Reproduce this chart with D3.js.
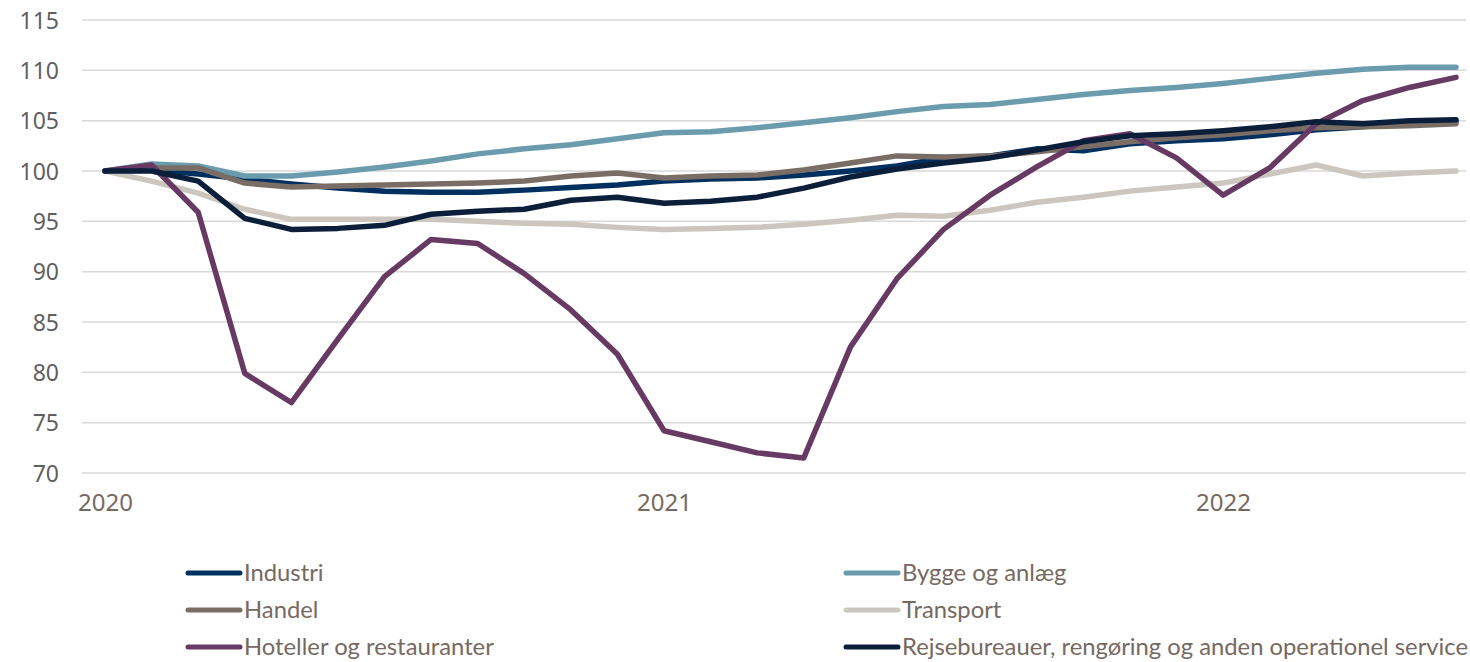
<!DOCTYPE html>
<html>
<head>
<meta charset="utf-8">
<script src="https://cdn.jsdelivr.net/npm/d3@7"></script>
<style>
  body { margin: 0; background: #fff; }
  .ytick { font-family: "Noto Sans", "Open Sans", sans-serif; font-size: 23px; fill: #5f5f5f; }
  .xtick { font-family: "Noto Sans", "Open Sans", sans-serif; font-size: 24px; fill: #76695f; }
  .legend text { font-family: Lato, "Liberation Sans Narrow", sans-serif; font-size: 23.8px; fill: #76695f; }
</style>
</head>
<body>
<svg width="1470" height="662"></svg>
<script>
var months = ["2020-01","2020-02","2020-03","2020-04","2020-05","2020-06","2020-07","2020-08","2020-09","2020-10","2020-11","2020-12",
  "2021-01","2021-02","2021-03","2021-04","2021-05","2021-06","2021-07","2021-08","2021-09","2021-10","2021-11","2021-12",
  "2022-01","2022-02","2022-03","2022-04","2022-05","2022-06"];

var industri = [100, 100.1, 99.7, 99.2, 98.7, 98.3, 98.0, 97.9, 97.9, 98.1, 98.35, 98.6, 99.0, 99.2, 99.3, 99.6, 100.0, 100.5, 101.3, 101.5, 102.2, 102.0, 102.7, 103.0, 103.2, 103.6, 104.1, 104.4, 104.8, 104.9];
var bygge = [100, 100.7, 100.5, 99.5, 99.5, 99.9, 100.4, 101.0, 101.7, 102.2, 102.6, 103.2, 103.8, 103.9, 104.3, 104.8, 105.3, 105.9, 106.4, 106.6, 107.1, 107.6, 108.0, 108.3, 108.7, 109.2, 109.7, 110.1, 110.3, 110.3];
var handel = [100, 100.3, 100.3, 98.8, 98.4, 98.5, 98.6, 98.7, 98.8, 99.0, 99.5, 99.8, 99.3, 99.5, 99.6, 100.1, 100.8, 101.5, 101.4, 101.5, 101.9, 102.4, 102.9, 103.3, 103.6, 104.0, 104.3, 104.4, 104.5, 104.7];
var transport = [100, 99.0, 97.8, 96.2, 95.2, 95.2, 95.2, 95.2, 95.0, 94.8, 94.7, 94.4, 94.2, 94.3, 94.4, 94.7, 95.1, 95.6, 95.5, 96.1, 96.9, 97.4, 98.0, 98.4, 98.8, 99.7, 100.6, 99.5, 99.8, 100.0];
var hotel = [100, 100.6, 95.9, 79.9, 77.0, 83.3, 89.5, 93.2, 92.8, 89.8, 86.2, 81.8, 74.2, 73.1, 72.0, 71.5, 82.5, 89.3, 94.2, 97.6, 100.4, 103.0, 103.7, 101.3, 97.6, 100.3, 104.7, 107.0, 108.3, 109.3];
var rejse = [100, 100.0, 99.0, 95.3, 94.2, 94.3, 94.6, 95.7, 96.0, 96.2, 97.1, 97.4, 96.8, 97.0, 97.4, 98.3, 99.4, 100.2, 100.8, 101.3, 102.1, 102.9, 103.5, 103.7, 104.0, 104.4, 104.9, 104.7, 105.0, 105.1];

var yTicks = [70, 75, 80, 85, 90, 95, 100, 105, 110, 115];
var xTickLabels = ["2020", "2021", "2022"];
var xTickMonths = ["2020-01", "2021-01", "2022-01"];

var seriesNames = ["Industri", "Bygge og anlæg", "Handel", "Transport", "Hoteller og restauranter", "Rejsebureauer, rengøring og anden operationel service"];
var seriesValues = [industri, bygge, handel, transport, hotel, rejse];
var seriesColors = ["#00305f", "#6b9cae", "#7a6d65", "#cdc6be", "#663a63", "#0b1f3b"];

var svg = d3.select("svg");
var gridLeft = 82, gridRight = 1466;

var x = d3.scaleLinear()
  .domain([0, months.length - 1])
  .range([105, 1456]);
var y = d3.scaleLinear()
  .domain([70, 115])
  .range([473, 20]);

var grid = svg.append("g");
grid.selectAll("line")
  .data(yTicks)
  .enter().append("line")
  .attr("x1", gridLeft)
  .attr("x2", gridRight)
  .attr("y1", function(d) { return y(d); })
  .attr("y2", function(d) { return y(d); })
  .attr("stroke", "#d9d9d9")
  .attr("stroke-width", 1.5);

var yAxis = d3.axisLeft(y).tickValues(yTicks).tickSize(0).tickPadding(0);
svg.append("g")
  .attr("transform", "translate(59,0)")
  .call(yAxis)
  .call(function(g) { g.select(".domain").remove(); })
  .selectAll("text")
  .attr("class", "ytick")
  .attr("dy", "0.36em")
  .attr("font-family", null)
  .attr("font-size", null)
  .attr("fill", null);

var xAxis = d3.axisBottom(x)
  .tickValues(xTickMonths.map(function(m) { return months.indexOf(m); }))
  .tickFormat(function(d, i) { return xTickLabels[i]; })
  .tickSize(0).tickPadding(0);
svg.append("g")
  .attr("transform", "translate(0,494)")
  .call(xAxis)
  .call(function(g) { g.select(".domain").remove(); })
  .selectAll("text")
  .attr("class", "xtick")
  .attr("dy", "0.71em")
  .attr("font-family", null)
  .attr("font-size", null)
  .attr("fill", null);

var line = d3.line()
  .x(function(d, i) { return x(i); })
  .y(function(d) { return y(d); });

svg.append("g")
  .selectAll("path")
  .data(seriesValues)
  .enter().append("path")
  .attr("d", line)
  .attr("fill", "none")
  .attr("stroke", function(d, i) { return seriesColors[i]; })
  .attr("stroke-width", 5.5)
  .attr("stroke-linejoin", "round")
  .attr("stroke-linecap", "round");

// legend, two columns
var legend = svg.append("g").attr("class", "legend");
var item = legend.selectAll("g")
  .data(seriesNames)
  .enter().append("g")
  .attr("transform", function(d, i) {
    var col = i % 2, row = Math.floor(i / 2);
    return "translate(" + (col === 0 ? 188 : 846) + "," + (573 + row * 37) + ")";
  });
item.append("line")
  .attr("x1", 0).attr("x2", 52)
  .attr("stroke", function(d, i) { return seriesColors[i]; })
  .attr("stroke-width", 5)
  .attr("stroke-linecap", "round");
item.append("text")
  .attr("x", 56)
  .attr("dy", "0.35em")
  .text(function(d) { return d; });
</script>
</body>
</html>
